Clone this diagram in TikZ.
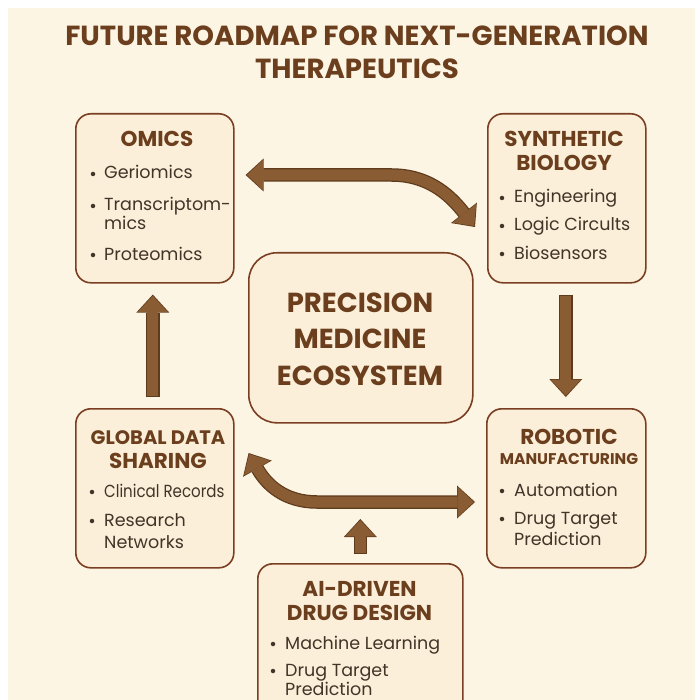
\documentclass[tikz,border=0pt]{standalone}
\usepackage{fontspec}
\setmainfont{Poppins}
\usetikzlibrary{arrows.meta,calc}

\definecolor{pagebg}{HTML}{FDF5E4}
\definecolor{boxfill}{HTML}{FBEFD9}
\definecolor{boxline}{HTML}{7A3E22}
\definecolor{headtext}{HTML}{6B3F1E}
\definecolor{bodytext}{HTML}{433428}
\definecolor{arrowfill}{HTML}{8A5C33}
\definecolor{arrowline}{HTML}{5E3B1C}

\tikzset{
  panel/.style={draw=boxline, line width=1.6pt, fill=boxfill, rounded corners=15pt,
    inner sep=0pt, anchor=north west},
  titletext/.style={anchor=base, text=headtext, inner sep=0pt,
    font=\fontsize{27.6}{32}\selectfont\bfseries},
  headtxt/.style={anchor=base, text=headtext, inner sep=0pt,
    font=\fontsize{21.5}{25}\selectfont\bfseries},
  narrowhead/.style={headtxt, font=\fontsize{19.5}{23}\selectfont\bfseries},
  smallhead/.style={headtxt, font=\fontsize{15.5}{18}\selectfont\bfseries},
  hubtxt/.style={anchor=base, text=headtext, inner sep=0pt,
    font=\fontsize{27.5}{32}\selectfont\bfseries},
  itemtxt/.style={anchor=base west, text=bodytext, inner sep=0pt,
    font=\fontsize{17.5}{21}\selectfont},
  dot/.style={circle, fill=bodytext, inner sep=0pt, minimum size=4.5pt},
  % two passes: a dark outline, then the lighter body of the arrow
  outone/.style={line width=13.5pt, draw=arrowline,
    -{Triangle[length=18pt,width=33pt,line width=0pt]}},
  inone/.style={line width=11pt, draw=arrowfill, shorten >=1.3pt, shorten <=1.3pt,
    -{Triangle[length=16pt,width=30pt,line width=0pt]}},
  outtwo/.style={line width=13.5pt, draw=arrowline,
    {Triangle[length=18pt,width=33pt,line width=0pt]}-{Triangle[length=18pt,width=33pt,line width=0pt]}},
  intwo/.style={line width=11pt, draw=arrowfill, shorten >=1.3pt, shorten <=1.3pt,
    {Triangle[length=16pt,width=30pt,line width=0pt]}-{Triangle[length=16pt,width=30pt,line width=0pt]}},
}

\begin{document}
\begin{tikzpicture}[x=1pt, y=-1pt]
\useasboundingbox (0,0) rectangle (695,700);
\fill[white] (0,0) rectangle (695,700);
\fill[pagebg] (8,8) rectangle (695,700);

% title
\node[titletext] (title1) at (357,46) {FUTURE ROADMAP FOR NEXT-GENERATION};
\node[titletext] (title2) at (357,79) {THERAPEUTICS};

% panels
\node[panel, minimum width=158pt, minimum height=169pt] (omics) at (75,113) {};
\node[panel, minimum width=158pt, minimum height=169pt] (synth) at (487,113) {};
\node[panel, minimum width=224pt, minimum height=170pt, rounded corners=28pt] (hub) at (248,252) {};
\node[panel, minimum width=158pt, minimum height=159pt] (global) at (75,408) {};
\node[panel, minimum width=159pt, minimum height=159pt] (robotic) at (486,408) {};
\node[panel, minimum width=205pt, minimum height=160pt] (ai) at (257,563) {};

% omics
\node[headtxt] (omicsh) at (157,147) {OMICS};
\node[dot] (o1) at (93,174) {};
\node[itemtxt] (o1t) at (104,179) {Geriomics};
\node[dot] (o2) at (93,206) {};
\node[itemtxt] (o2t) at (104,211) {Transcriptom-};
\node[itemtxt] (o2u) at (104,230) {mics};
\node[dot] (o3) at (93,255) {};
\node[itemtxt] (o3t) at (104,260) {Proteomics};

% synthetic biology
\node[headtxt] (synthh1) at (564,147) {SYNTHETIC};
\node[headtxt] (synthh2) at (564,171) {BIOLOGY};
\node[dot] (s1) at (502,198) {};
\node[itemtxt] (s1t) at (514,203) {Engineering};
\node[dot] (s2) at (502,226) {};
\node[itemtxt] (s2t) at (514,231) {Logic Circults};
\node[dot] (s3) at (502,254) {};
\node[itemtxt] (s3t) at (514,259) {Biosensors};

% hub
\node[hubtxt] (hub1) at (360,312) {PRECISION};
\node[hubtxt] (hub2) at (360,348) {MEDICINE};
\node[hubtxt] (hub3) at (360,385) {ECOSYSTEM};

% global data sharing
\node[narrowhead] (globalh1) at (158,444.5) {GLOBAL DATA};
\node[headtxt] (globalh2) at (158,468) {SHARING};
\node[dot] (g1) at (92,492) {};
\node[itemtxt] (g1t) at (104,497) {\scalebox{0.86}[1]{Clinical Records}};
\node[dot] (g2) at (92,521) {};
\node[itemtxt] (g2t) at (104,526) {Research};
\node[itemtxt] (g2u) at (104,548) {Networks};

% robotic manufacturing
\node[headtxt] (robh1) at (569,444) {ROBOTIC};
\node[smallhead] (robh2) at (569,464) {MANUFACTURING};
\node[dot] (r1) at (502,491) {};
\node[itemtxt] (r1t) at (514,496) {Automation};
\node[dot] (r2) at (502,519) {};
\node[itemtxt] (r2t) at (514,524) {Drug Target};
\node[itemtxt] (r2u) at (514,545) {Prediction};

% ai-driven drug design
\node[headtxt] (aih1) at (359.5,596) {AI-DRIVEN};
\node[headtxt] (aih2) at (359.5,620) {DRUG DESIGN};
\node[dot] (a1) at (273,644) {};
\node[itemtxt] (a1t) at (285,649) {Machine Learning};
\node[dot] (a2) at (273,671) {};
\node[itemtxt] (a2t) at (285,676) {Drug Target};
\node[itemtxt] (a2u) at (285,695) {Prediction};

% connector end points
\coordinate (ta) at ($(omics.north east)+(11,62)$);
\coordinate (tb) at ($(synth.north west)+(-12,114)$);
\coordinate (ba) at ($(robotic.north west)+(-11,94)$);
\coordinate (bb) at ($(global.north east)+(14,45)$);
\coordinate (la) at ($(global.north)+(-2,-11)$);
\coordinate (lb) at ($(omics.south)+(-2,11)$);
\coordinate (ra) at ($(synth.south)+(-1,11)$);
\coordinate (rb) at ($(robotic.north)+(-0.5,-11)$);
\coordinate (aa) at ($(ai.north)+(0,-9)$);
\coordinate (ae) at ($(ai.north)+(0,-44)$);

% omics <-> synthetic biology
\foreach \st in {outtwo,intwo}
  \draw[\st] (ta) -- ($(ta)+(146,0)$) .. controls ($(ta)+(186,0)$) and ($(tb)+(-22,-28)$) .. (tb);
% global data sharing <-> robotic manufacturing
\foreach \st in {outtwo,intwo}
  \draw[\st] (bb) .. controls ($(bb)+(18,32)$) and ($(ba)+(-190,0)$) .. ($(ba)+(-158,0)$) -- (ba);
% vertical links
\foreach \st in {outone,inone} {
  \draw[\st] (la) -- (lb);
  \draw[\st] (ra) -- (rb);
  \draw[\st] (aa) -- (ae);
}
\end{tikzpicture}
\end{document}
